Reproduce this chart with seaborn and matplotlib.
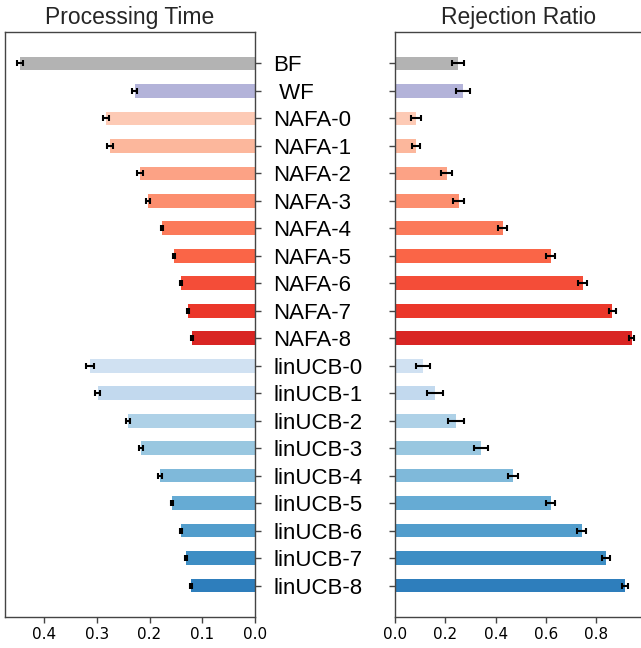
import numpy as np
import pandas as pd
import matplotlib
matplotlib.use("Agg")
import matplotlib.pyplot as plt
import seaborn as sns

labels = ["BF", " WF"] + [f"NAFA-{i}" for i in range(9)] + [f"linUCB-{i}" for i in range(9)]

proc_time = [0.446, 0.228, 0.283, 0.275, 0.218, 0.203, 0.176, 0.154, 0.140, 0.127, 0.119,
             0.313, 0.298, 0.241, 0.216, 0.180, 0.157, 0.140, 0.131, 0.121]
proc_err = [0.006, 0.005, 0.006, 0.005, 0.005, 0.003, 0.0025, 0.002, 0.002, 0.002, 0.002,
            0.007, 0.005, 0.004, 0.004, 0.003, 0.002, 0.002, 0.002, 0.002]

rej_ratio = [0.250, 0.270, 0.082, 0.082, 0.205, 0.253, 0.427, 0.618, 0.746, 0.862, 0.940,
             0.111, 0.159, 0.243, 0.342, 0.469, 0.618, 0.741, 0.838, 0.914]
rej_err = [0.025, 0.027, 0.020, 0.016, 0.021, 0.022, 0.019, 0.019, 0.018, 0.014, 0.011,
           0.027, 0.032, 0.031, 0.027, 0.019, 0.017, 0.018, 0.015, 0.012]

reds = plt.get_cmap("Reds")(np.linspace(0.2, 0.7, 9))
blues = plt.get_cmap("Blues")(np.linspace(0.2, 0.7, 9))
colors = ["#b3b3b3", "#b3b3d9"] + [tuple(c) for c in reds] + [tuple(c) for c in blues]
palette = dict(zip(labels, colors))

df = pd.DataFrame({"label": labels, "time": proc_time, "time_err": proc_err,
                   "ratio": rej_ratio, "ratio_err": rej_err})

sns.set_style("white")
plt.rcParams["font.family"] = ["DejaVu Sans"]

fig = plt.figure(figsize=(6.41, 6.48), dpi=100)
ax1 = fig.add_axes([5/641, 1-617/648, 250/641, 585/648])
ax2 = fig.add_axes([395/641, 1-617/648, 248/641, 585/648])

title_font = dict(family="Liberation Sans", size=16.5)
spine_col = "#444444"

for ax, col, ecol, title in [(ax1, "time", "time_err", "Processing Time"),
                             (ax2, "ratio", "ratio_err", "Rejection Ratio")]:
    sns.barplot(data=df, y="label", x=col, hue="label", palette=palette, orient="h",
                width=0.5, legend=False, ax=ax, saturation=1, linewidth=0,
                edgecolor="none")
    ax.errorbar(df[col], np.arange(len(df)), xerr=df[ecol], fmt="none",
                ecolor="black", elinewidth=1.5, capsize=2.2, capthick=1.5, zorder=5)
    ax.set_ylim(len(df) - 1 + 1.145, -1.145)
    ax.set_xlabel("")
    ax.set_ylabel("")
    ax.set_title(title, fontdict=title_font, pad=6)
    for s in ax.spines.values():
        s.set_visible(True)
        s.set_color(spine_col)
        s.set_linewidth(1.0)
    ax.tick_params(axis="x", labelsize=11, colors=spine_col, labelcolor="black",
                   length=4, width=1, direction="out", bottom=True)

ax1.set_xlim(0.474, 0.0)
ax1.set_xticks([0.4, 0.3, 0.2, 0.1, 0.0])
ax1.yaxis.tick_right()
ax1.tick_params(axis="y", right=True, left=False, length=4, width=1, colors=spine_col,
                labelcolor="black", pad=9)
ax1.set_yticks(np.arange(len(labels)))
ax1.set_yticklabels(labels, family="Liberation Sans", fontsize=16)

ax2.set_xlim(0.0, 0.985)
ax2.set_xticks([0.0, 0.2, 0.4, 0.6, 0.8])
ax2.set_yticks(np.arange(len(labels)))
ax2.tick_params(axis="y", left=True, right=False, length=4, width=1, colors=spine_col,
                labelleft=False)

fig.savefig("out.png", dpi=100)
